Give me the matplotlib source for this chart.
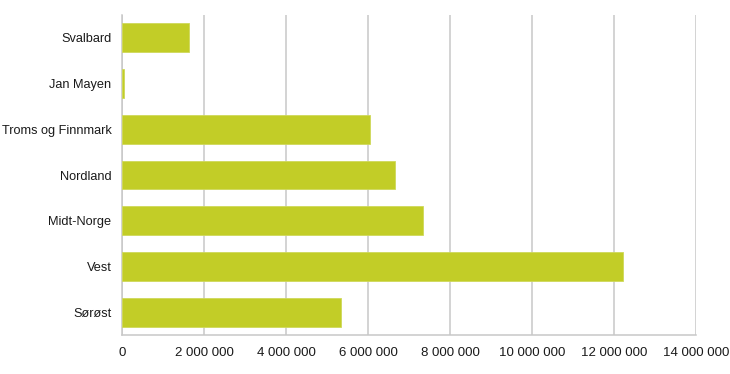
import matplotlib
matplotlib.use("Agg")
import matplotlib.pyplot as plt

categories = ["Sørøst", "Vest", "Midt-Norge", "Nordland", "Troms og Finnmark", "Jan Mayen", "Svalbard"]
values = [5350000, 12220000, 7350000, 6650000, 6060000, 40000, 1640000]
xticks = [0, 2000000, 4000000, 6000000, 8000000, 10000000, 12000000, 14000000]
xticklabels = ["0", "2 000 000", "4 000 000", "6 000 000", "8 000 000", "10 000 000", "12 000 000", "14 000 000"]

plt.rcParams['font.family'] = ['Liberation Sans', 'DejaVu Sans']

fig = plt.figure(figsize=(7.30, 3.74), dpi=100)
ax = fig.add_axes([122/730, 1-335/374, (696-122)/730, 320/374])

ax.barh(range(len(categories)), values, height=0.63, color='#c2cd27', edgecolor='#cfd95a', linewidth=0.6, zorder=3)
ax.set_xlim(0, 14000000)
ax.set_ylim(-0.5, len(categories)-0.5)
ax.set_yticks(range(len(categories)))
ax.set_yticklabels(categories, fontsize=9.2, color='#1a1a1a')
ax.set_xticks(xticks)
ax.set_xticklabels(xticklabels, fontsize=9.5, color='#1a1a1a')
ax.tick_params(axis='both', length=0)
ax.tick_params(axis='y', pad=7.5)
ax.tick_params(axis='x', pad=9)
ax.grid(axis='x', color='#c8c8c8', linewidth=1.1, zorder=0)
for s in ['top', 'right']:
    ax.spines[s].set_visible(False)
for s in ['left', 'bottom']:
    ax.spines[s].set_color('#c8c8c8')
    ax.spines[s].set_linewidth(1.1)

fig.savefig("out.png", dpi=100)
